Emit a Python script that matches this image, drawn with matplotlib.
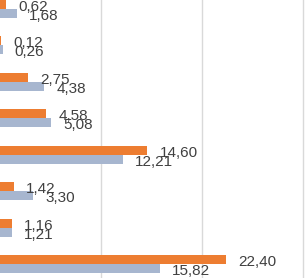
import matplotlib
matplotlib.use('Agg')

from matplotlib import pyplot as plt
import numpy as np

# values per row, top to bottom
orange_vals = [0.62, 0.12, 2.75, 4.58, 14.60, 1.42, 1.16, 22.40]
grey_vals = [1.68, 0.26, 4.38, 5.08, 12.21, 3.30, 1.21, 15.82]
grid_ticks = [10, 20, 30]

ORANGE = '#ED7D31'
GREY = '#A7B6CF'
TXT = '#404040'

plt.rcParams['font.family'] = ['Liberation Sans', 'DejaVu Sans']

fig = plt.figure(figsize=(3.06, 2.78), dpi=100)
ax = fig.add_axes([0, 0, 1, 1])

pos = np.arange(len(orange_vals))
h = 0.247

ax.barh(pos - h / 2, orange_vals, height=h, color=ORANGE, zorder=2)
ax.barh(pos + h / 2, grey_vals, height=h, color=GREY, zorder=2)


def fmt(v):
    return ('%.2f' % v).replace('.', ',')


for y, v in zip(pos - h / 2, orange_vals):
    ax.annotate(fmt(v), (v, y), xytext=(12, -2.5), textcoords='offset pixels',
                ha='left', va='center', fontsize=11, color=TXT, zorder=3)
for y, v in zip(pos + h / 2, grey_vals):
    ax.annotate(fmt(v), (v, y), xytext=(12, -2.5), textcoords='offset pixels',
                ha='left', va='center', fontsize=11, color=TXT, zorder=3)

ax.set_xlim(0, 30.3)
ax.set_ylim(7 + 14 / 36.4, -9 / 36.4)
ax.set_xticks(grid_ticks)
ax.set_yticks([])
ax.tick_params(axis='x', length=0, labelbottom=False)
ax.grid(axis='x', color='#D9D9D9', linewidth=1)
ax.set_axisbelow(True)
for s in ax.spines.values():
    s.set_visible(False)

fig.savefig('out.png', dpi=100)
plt.close()
